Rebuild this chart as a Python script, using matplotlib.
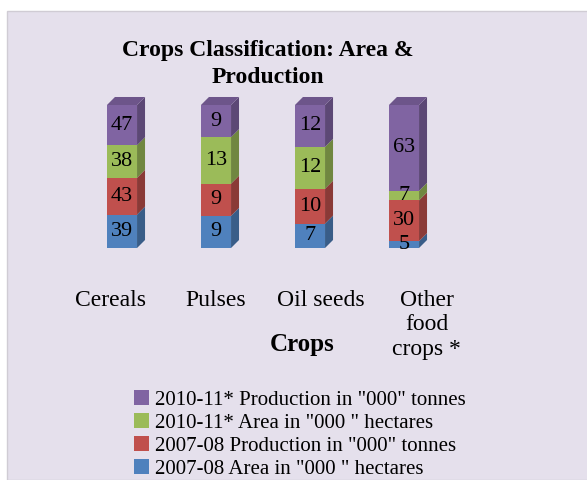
import numpy as np
import matplotlib
matplotlib.use("Agg")
from matplotlib import pyplot as plt
from matplotlib.patches import Polygon, Rectangle, Patch
from matplotlib import colors as mcolors

plt.rcParams['font.family'] = ['Liberation Serif', 'DejaVu Serif']

crops = ["Cereals", "Pulses", "Oil seeds", "Other\nfood\ncrops *"]
series = ['2007-08 Area in "000 " hectares',
          '2007-08 Production in "000" tonnes',
          '2010-11* Area in "000 " hectares',
          '2010-11* Production in "000" tonnes']
area_0708 = [39, 9, 7, 5]
prod_0708 = [43, 9, 10, 30]
area_1011 = [38, 13, 12, 7]
prod_1011 = [47, 9, 12, 63]
colors = ["#4F81BD", "#C0504D", "#9BBB59", "#8064A2"]

values = np.array([area_0708, prod_0708, area_1011, prod_1011], dtype=float)
pct = values / values.sum(axis=0) * 100

fig = plt.figure(figsize=(5.87, 4.8), dpi=100)
fig.patch.set_facecolor("white")
fig.add_artist(Rectangle((7 / 587, 0), 1, 1 - 11 / 480, transform=fig.transFigure,
                         facecolor="#E5E0EC", edgecolor="#D0CCD4", lw=1, zorder=0))

ax = fig.add_axes([28 / 587, 1 - 248 / 480, 470 / 587, 143 / 480])
ax.set_xlim(-1, 4)
ax.set_ylim(0, 100)
ax.patch.set_alpha(0)
for s in ax.spines.values():
    s.set_visible(False)

x = np.arange(len(crops))
w = 0.32
dx, dy = 0.085, 5.6


def darker(c, f=0.72):
    r, g, b = mcolors.to_rgb(c)
    return (r * f, g * f, b * f)


bottom = np.zeros(len(crops))
for i, col in enumerate(colors):
    ax.bar(x, pct[i], w, bottom=bottom, color=col, zorder=2)
    for j in range(len(crops)):
        y0, y1 = bottom[j], bottom[j] + pct[i][j]
        xr = x[j] + w / 2
        ax.add_patch(Polygon([(xr, y0), (xr + dx, y0 + dy), (xr + dx, y1 + dy), (xr, y1)],
                             closed=True, facecolor=darker(col), edgecolor="none",
                             zorder=2, clip_on=False))
        ax.text(x[j], (y0 + y1) / 2, str(int(values[i][j])), ha="center", va="center",
                fontsize=16, zorder=3)
    bottom += pct[i]

# top faces
for j in range(len(crops)):
    xl, xr = x[j] - w / 2, x[j] + w / 2
    ax.add_patch(Polygon([(xl, 100), (xl + dx, 100 + dy), (xr + dx, 100 + dy), (xr, 100)],
                         closed=True, facecolor=darker(colors[-1], 0.85), edgecolor="none",
                         zorder=2, clip_on=False))

ax.set_yticks([])
ax.set_xticks(x * 1.12 - 0.12)
ax.set_xticklabels(crops, fontsize=17, linespacing=1.22)
ax.tick_params(axis="x", length=0, pad=30)

fig.text(268 / 587, 1 - 64 / 480, "Crops Classification: Area &\nProduction", ha="center",
         va="center", fontsize=17, fontweight="bold", linespacing=1.35)
fig.text(302 / 587, 1 - 345 / 480, "Crops", ha="center", va="center", fontsize=18,
         fontweight="bold")

handles = [Patch(facecolor=c) for c in colors][::-1]
fig.legend(handles, series[::-1], loc="upper left", bbox_to_anchor=(134 / 587, 1 - 390 / 480),
           frameon=False, fontsize=15, handlelength=0.7, handleheight=0.7,
           handletextpad=0.3, labelspacing=0.17, borderaxespad=0, borderpad=0)

fig.savefig("out.png", dpi=100)
